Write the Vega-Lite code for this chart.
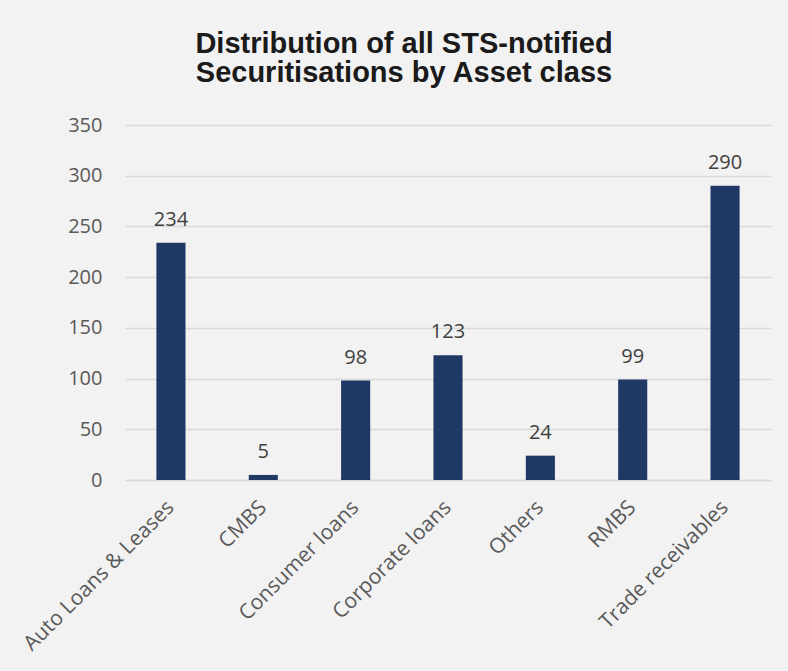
{
  "$schema": "https://vega.github.io/schema/vega-lite/v6.json",
  "width": 646,
  "height": 355,
  "autosize": {"type": "none"},
  "padding": {"left": 125, "top": 125, "right": 17, "bottom": 191},
  "background": "#f2f2f2",
  "title": {
    "text": ["Distribution of all STS-notified", "Securitisations by Asset class"],
    "font": "Liberation Sans",
    "fontSize": 29,
    "fontWeight": "bold",
    "color": "#1a1a1a",
    "lineHeight": 29,
    "anchor": "middle",
    "frame": "group",
    "dx": -44,
    "offset": 27
  },
  "data": {
    "values": [
      {"asset_class": "Auto Loans & Leases", "count": 234},
      {"asset_class": "CMBS", "count": 5},
      {"asset_class": "Consumer loans", "count": 98},
      {"asset_class": "Corporate loans", "count": 123},
      {"asset_class": "Others", "count": 24},
      {"asset_class": "RMBS", "count": 99},
      {"asset_class": "Trade receivables", "count": 290}
    ]
  },
  "encoding": {
    "x": {
      "field": "asset_class",
      "type": "nominal",
      "sort": null,
      "scale": {"paddingInner": 0.685, "paddingOuter": 0.34},
      "axis": {
        "title": null,
        "labelAngle": -45,
        "labelAlign": "right",
        "labelBaseline": "middle",
        "labelPadding": 24,
        "labelFont": "Open Sans",
        "labelFontSize": 21,
        "labelColor": "#595959",
        "ticks": false,
        "domainColor": "#d9d9d9",
        "domainWidth": 1.5,
        "labelLimit": 400
      }
    },
    "y": {
      "field": "count",
      "type": "quantitative",
      "scale": {"domain": [0, 350]},
      "axis": {
        "title": null,
        "values": [0, 50, 100, 150, 200, 250, 300, 350],
        "labelFont": "Open Sans",
        "labelFontSize": 20,
        "labelColor": "#595959",
        "labelPadding": 23,
        "ticks": false,
        "domain": false,
        "gridColor": "#d9d9d9",
        "gridWidth": 1.5
      }
    }
  },
  "layer": [
    {
      "mark": {"type": "bar", "color": "#1f3864"}
    },
    {
      "mark": {
        "type": "text",
        "font": "Open Sans",
        "fontSize": 20,
        "color": "#404040",
        "baseline": "alphabetic",
        "dy": -17
      },
      "encoding": {"text": {"field": "count", "type": "quantitative"}}
    }
  ],
  "config": {"view": {"stroke": null}}
}
